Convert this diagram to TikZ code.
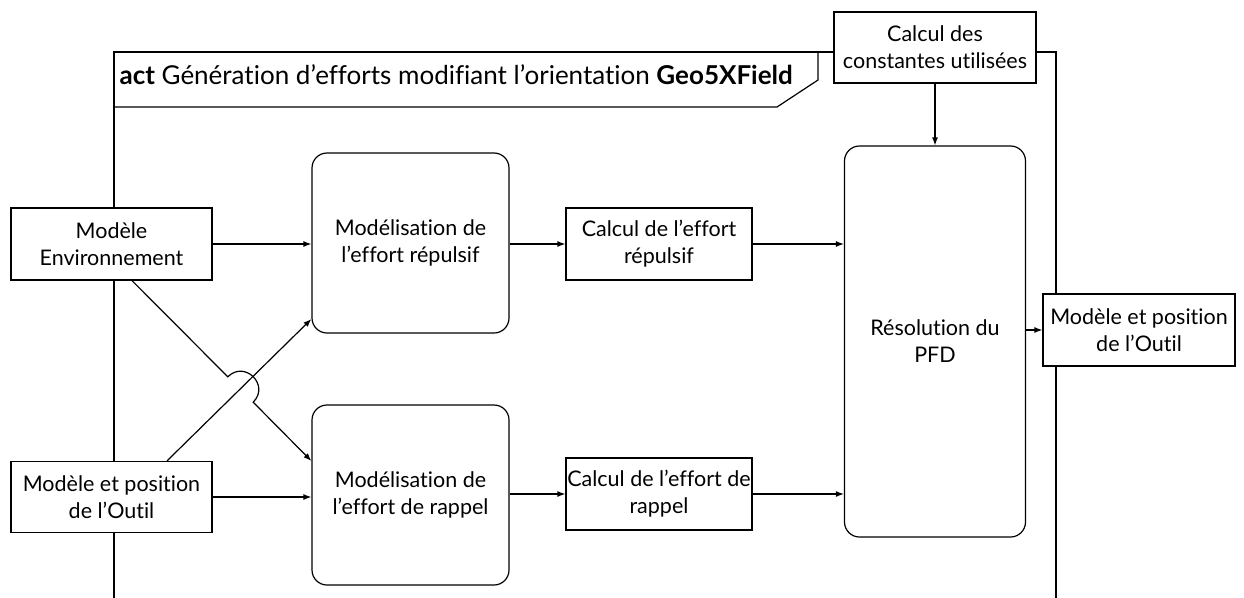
\documentclass[tikz,border=0pt]{standalone}
\usepackage{fontspec}
\setmainfont{Lato}[Ligatures=NoCommon]
\usetikzlibrary{arrows.meta,calc}
\newcommand\boxfont{\fontsize{21.5}{27}\selectfont}
\newcommand\titlefont{\fontsize{26}{27}\selectfont}
\begin{document}
\begin{tikzpicture}[x=1pt,y=-1pt,line width=1.2pt,
  box/.style={draw,fill=white,align=center,inner sep=0pt,font=\boxfont},
  rbox/.style={box,rounded corners=15pt},
  arr/.style={-{Latex[length=8pt,width=6pt]}}]
\path[use as bounding box] (0,0) rectangle (1244,597);
\clip (0,0) rectangle (1244,597);
% frame
\draw (114,610) -- (114,52) -- (1056,52) -- (1056,610);
\draw (114,107) -- (777,107) -- (818,80) -- (818,52);
\node[anchor=base west,inner sep=0pt,font=\titlefont] (title) at (119,84)
  {\textbf{act} Génération d’efforts modifiant l’orientation \textbf{Geo5XField}};
% nodes
\node[box,minimum width=201pt,minimum height=72pt] (env) at (111.5,244) {Modèle\\Environnement};
\node[box,minimum width=201pt,minimum height=71pt] (outilL) at (111.5,497) {Modèle et position\\de l’Outil};
\node[rbox,minimum width=197pt,minimum height=180pt] (mrep) at (410.5,243) {Modélisation de\\l’effort répulsif};
\node[rbox,minimum width=197pt,minimum height=180pt] (mrap) at (410.5,495) {Modélisation de\\l’effort de rappel};
\node[box,minimum width=186pt,minimum height=72pt] (crep) at (659,244) {Calcul de l’effort\\répulsif};
\node[box,minimum width=186pt,minimum height=72pt] (crap) at (659,494) {Calcul de l’effort de\\rappel};
\node[rbox,minimum width=181pt,minimum height=391pt] (pfd) at (935,341.5) {Résolution du\\PFD};
\node[box,minimum width=202pt,minimum height=71pt] (const) at (935,47.5) {Calcul des\\constantes utilisées};
\node[box,minimum width=192pt,minimum height=72pt] (outilR) at (1139,330) {Modèle et position\\de l’Outil};
% connectors
\draw[arr] (env.east) -- (env.east -| mrep.west);
\draw[arr] (outilL.east) -- (outilL.east -| mrap.west);
\draw[arr] (mrep.east |- crep.west) -- (crep.west);
\draw[arr] (mrap.east |- crap.west) -- (crap.west);
\draw[arr] (crep.east) -- (crep.east -| pfd.west);
\draw[arr] (crap.east) -- (crap.east -| pfd.west);
\draw[arr] (const.south) -- (pfd.north);
\draw[arr] (outilR.west -| pfd.east) -- (outilR.west);
\coordinate (h1) at (227.8,376.8);
\coordinate (c1) at (244.8,359.8);
\coordinate (c2) at (270.2,385.2);
\coordinate (h2) at (253.2,402.2);
\draw[arr] ([xshift=20.5pt]env.south) -- (h1) .. controls (c1) and (c2) .. (h2) -- ([yshift=34pt]mrap.west);
\draw[arr] ([xshift=55.5pt]outilL.north) -- ([yshift=-76pt]mrep.west);
\end{tikzpicture}
\end{document}
